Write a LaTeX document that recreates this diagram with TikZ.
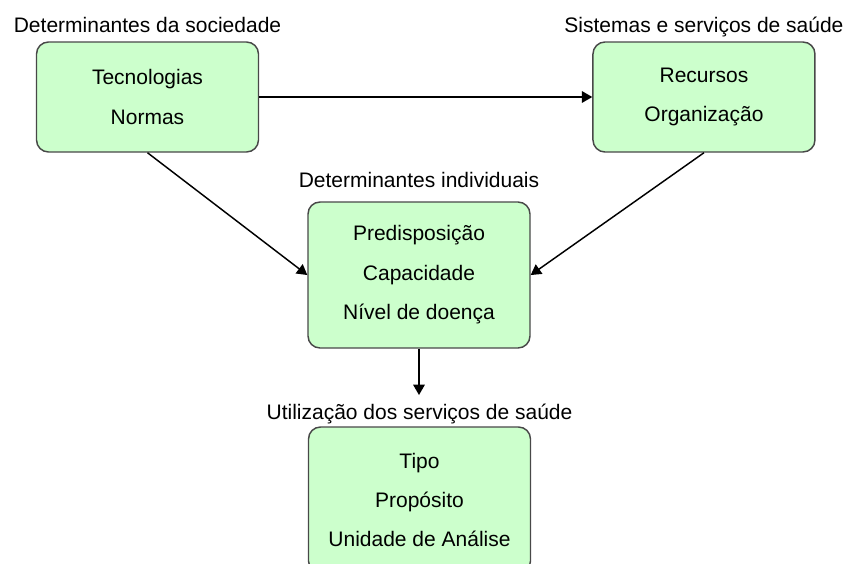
\documentclass[tikz,border=0pt]{standalone}
\usepackage{fontspec}
\setmainfont{Liberation Sans}
\usepackage{tikz}
\usetikzlibrary{arrows}
\usetikzlibrary{positioning}
\definecolor{verdeclaro}{RGB}{204,255,204}
\definecolor{bordacinza}{RGB}{72,72,72}
\tikzset{bloco/.style={draw=bordacinza, fill=verdeclaro, line width=1.1pt,
                       rounded corners=9pt, align=center, inner sep=0pt,
                       minimum width=166.5pt, minimum height=82.5pt}}
\tikzset{alto/.style={minimum height=109.5pt}}
\tikzset{titulo/.style={inner sep=0pt, anchor=base}}

\begin{document}
\begin{tikzpicture}[->,>=triangle 60,line width=1.1pt,x=0.75pt,y=0.75pt,
                    font=\fontsize{15.75pt}{29.6pt}\selectfont]
   \useasboundingbox (0,0) rectangle (847,-564);

   \node[bloco] (soc) at (147.5,-97) {Tecnologias\\Normas};
   \node[bloco] (sis) [right=249.75pt of soc] {Recursos\\Organização};
   \node[bloco,alto] (ind) at (419,-275) {Predisposição\\Capacidade\\Nível de doença};
   \node[bloco,alto] (uti) at (419.5,-500) {Tipo\\Propósito\\Unidade de Análise};

   \node[titulo] (socT) [above=6.75pt of soc.north,anchor=base] {Determinantes da sociedade};
   \node[titulo] (sisT) [above=6.75pt of sis.north,anchor=base] {Sistemas e serviços de saúde};
   \node[titulo] (indT) [above=10.5pt of ind.north,anchor=base] {Determinantes individuais};
   \node[titulo] (utiT) [above=5.25pt of uti.north,anchor=base] {Utilização dos serviços de saúde};
   \coordinate (fim) at (419,-395);

   \draw (soc.east) -- (sis.west);
   \draw (soc.south) -- (ind.west);
   \draw (sis.south) -- (ind.east);
   \draw (ind.south) -- (fim);
\end{tikzpicture}
\end{document}
